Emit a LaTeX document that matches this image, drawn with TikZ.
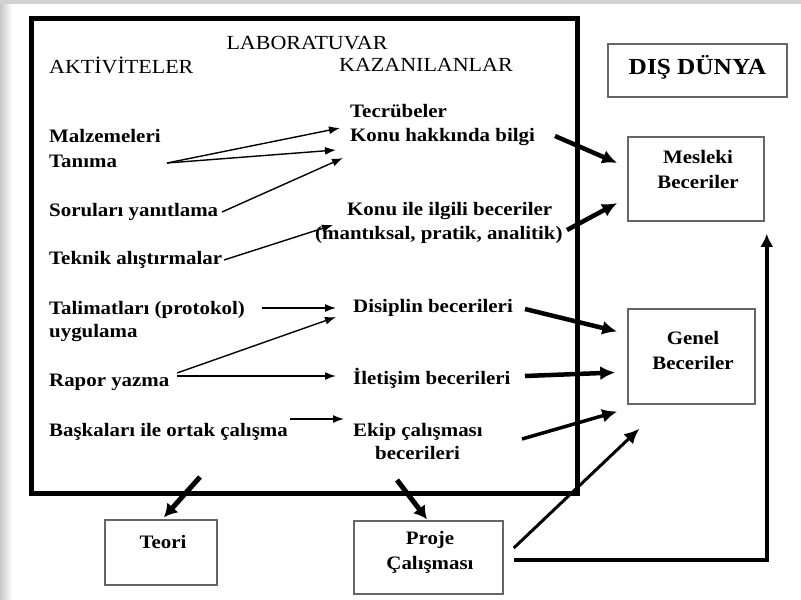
\documentclass[tikz,border=0pt]{standalone}
\usepackage{fontspec}
\setmainfont{Liberation Serif}[FakeStretch=1.1]
\usetikzlibrary{arrows.meta,calc}
\tikzset{
  head/.style={inner sep=0pt, font=\fontsize{20}{24}\selectfont},
  item/.style={anchor=west, inner sep=0pt, text height=13pt, text depth=4pt, font=\fontsize{19}{25}\selectfont\bfseries},
  boxtext/.style={inner sep=0pt, align=center, font=\fontsize{19}{25}\selectfont\bfseries},
  outbox/.style={draw=black!60, line width=1.5pt, inner sep=0pt},
  thinarrow/.style={-{Latex[length=11pt,width=8pt]}, line width=1.4pt},
  fatarrow/.style={-{Latex[length=15pt,width=14pt]}, line width=4.5pt},
}
\begin{document}
\begin{tikzpicture}[x=1pt,y=-1pt]
		%%%%% START %%%%%
		\useasboundingbox (0,0) rectangle (801,600);
		\fill[black!18] (0,0) rectangle (801,4);
		\shade[left color=black!22, right color=white] (0,4) rectangle (12,600);
		
		\draw[line width=5pt] (31,18) rectangle (577,493);
		
		\node[head] (lab) at (307,43) {LABORATUVAR};
		\node[head, anchor=west] (akt) at (49,65) {AKTİVİTELER};
		\node[head, anchor=west] (kaz) at (339,65) {KAZANILANLAR};
		
		% aktiviteler
		\node[item] (malz) at (49,138) {Malzemeleri};
		\node[item] (tan) at (49,163) {Tanıma};
		\node[item] (sor) at (49,212) {Soruları yanıtlama};
		\node[item] (tek) at (49,260) {Teknik alıştırmalar};
		\node[item] (tal) at (49,310) {Talimatları (protokol)};
		\node[item] (uyg) at (49,333) {uygulama};
		\node[item] (rap) at (49,382) {Rapor yazma};
		\node[item] (bas) at (49,432) {Başkaları ile ortak çalışma};
		
		% kazanilanlar
		\node[item] (tec) at (350,113) {Tecrübeler};
		\node[item] (hak) at (350,137) {Konu hakkında bilgi};
		\node[item] (ilg) at (347,211) {Konu ile ilgili beceriler};
		\node[item] (man) at (315,235) {(mantıksal, pratik, analitik)};
		\node[item] (dis) at (353,308) {Disiplin becerileri};
		\node[item] (ilet) at (353,380) {İletişim becerileri};
		\node[item] (ekp) at (353,432) {Ekip çalışması};
		\node[item] (bec) at (375,455) {becerileri};
		
		% kutular
		\node[outbox, minimum width=179, minimum height=53] (dunya) at (697.5,70.5) {};
		\node[head, font=\fontsize{23}{26}\selectfont\bfseries] at ($(dunya)+(0,-3)$) {DIŞ DÜNYA};
		\node[outbox, minimum width=136, minimum height=84] (mesleki) at (696,179) {};
		\node[boxtext] at ($(mesleki)+(2,-9.5)$) {Mesleki\\Beceriler};
		\node[outbox, minimum width=127, minimum height=95] (genel) at (691.5,356.5) {};
		\node[boxtext] at ($(genel)+(1.5,-6)$) {Genel\\Beceriler};
		\node[outbox, minimum width=112, minimum height=65] (teori) at (161,552.5) {};
		\node[boxtext] at ($(teori)+(2,-10.5)$) {Teori};
		\node[outbox, minimum width=149, minimum height=73] (proje) at (428.5,557.5) {};
		\node[boxtext] at ($(proje)+(1.5,-5)$) {Proje\\Çalışması};
		
		% ince oklar
		\draw[thinarrow] ($(tan.west)+(118,0)$) -- ($(hak.west)+(-10,-9)$);
		\draw[thinarrow] ($(tan.west)+(118,0)$) -- ($(hak.west)+(-14,13)$);
		\draw[thinarrow] ($(sor.west)+(173,0)$) -- ($(hak.west)+(-7,21)$);
		\draw[thinarrow] ($(tek.west)+(175,0)$) -- ($(ilg.west)+(-14,14)$);
		\draw[thinarrow] ($(tal.west)+(213,-2)$) -- ($(dis.west)+(-17,0)$);
		\draw[thinarrow] ($(rap.west)+(128,-9)$) -- ($(dis.west)+(-17,9)$);
		\draw[thinarrow] ($(rap.west)+(128,-6)$) -- ($(ilet.west)+(-17,-4)$);
		\draw[thinarrow] ($(bas.west)+(241,-13)$) -- ($(ekp.west)+(-9,-13)$);
		
		% kalin oklar
		\draw[fatarrow] ($(hak.west)+(205,-1)$) -- ($(mesleki.west)+(-10,-16)$);
		\draw[fatarrow] ($(man.west)+(252,-5)$) -- ($(mesleki.west)+(-10,24)$);
		\draw[fatarrow] ($(dis.west)+(172,1)$) -- ($(genel.west)+(-10,-25)$);
		\draw[fatarrow] ($(ilet.west)+(172,-4)$) -- ($(genel.west)+(-12,16)$);
		\draw[fatarrow, line width=3.5pt] ($(ekp.west)+(169,7)$) -- ($(genel.west)+(-10,55)$);
		\draw[fatarrow, line width=3pt] ($(proje.east)+(10,-9.5)$) -- ($(genel.south west)+(12,24)$);
		\draw[fatarrow, line width=5pt, -{Latex[length=13pt,width=15pt]}] ($(bec.west)+(22,25)$) -- ($(proje.north)+(-1.5,-1)$);
		\draw[fatarrow, line width=5pt, -{Latex[length=13pt,width=15pt]}] (200,477) -- ($(teori.north)+(3,-2)$);
		\draw[fatarrow, -{Latex[length=13pt,width=13pt]}] ($(proje.east)+(10,2.5)$) -| ($(mesleki.south east)+(2,12)$);
		
		%%%%% END %%%%%
\end{tikzpicture}
\end{document}
